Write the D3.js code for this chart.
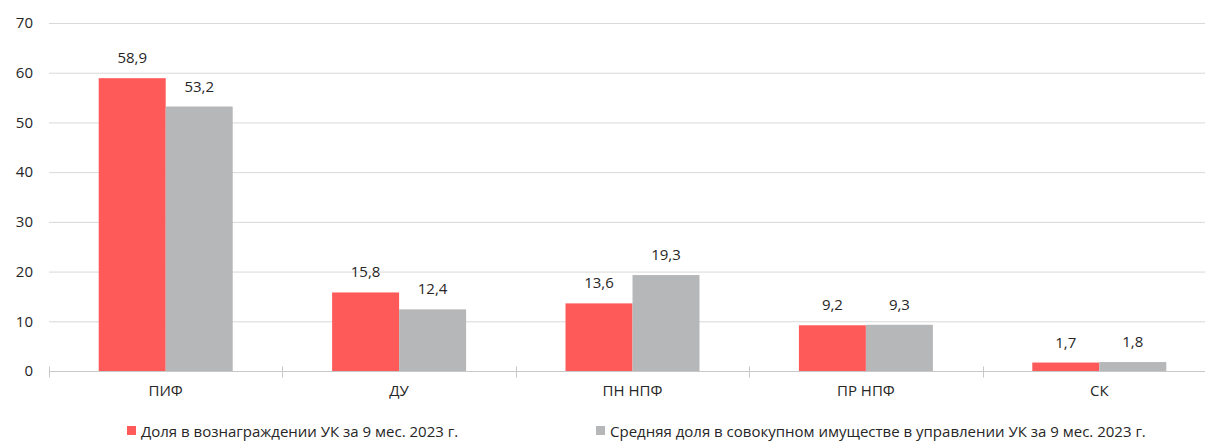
<!DOCTYPE html>
<html>
<head>
<meta charset="utf-8">
<script src="https://cdn.jsdelivr.net/npm/d3@7"></script>
<style>
  body { margin: 0; background: #fff; }
  svg text { font-family: "Open Sans", "Noto Sans", sans-serif; fill: #262626; }
</style>
</head>
<body>
<div id="chart"></div>
<script>
// data
var categories = ['ПИФ', 'ДУ', 'ПН НПФ', 'ПР НПФ', 'СК'];
var feeShare = [58.9, 15.8, 13.6, 9.2, 1.7];
var assetShare = [53.2, 12.4, 19.3, 9.3, 1.8];
var seriesNames = ['Доля в вознаграждении УК за 9 мес. 2023 г.',
    'Средняя доля в совокупном имуществе в управлении УК за 9 мес. 2023 г.'];
var seriesColors = ['#ff5a5a', '#b6b7b9'];
var yTicks = [0, 10, 20, 30, 40, 50, 60, 70];

var W = 1205, H = 442;

var svg = d3.select('#chart').append('svg')
    .attr('width', W)
    .attr('height', H);

var x = d3.scaleBand().domain(categories).range([49, 1216]);
var y = d3.scaleLinear().domain([0, 70]).range([371, 23]);

var fmt = function(v){ return d3.format('.1f')(v).replace('.', ','); };

// gridlines
svg.append('g').selectAll('line')
    .data(yTicks.slice(1)).enter().append('line')
    .attr('x1', 49).attr('x2', W)
    .attr('y1', function(d){ return y(d) + 0.5; })
    .attr('y2', function(d){ return y(d) + 0.5; })
    .attr('stroke', '#d9d9d9').attr('stroke-width', 1);

// y labels
svg.append('g').selectAll('text')
    .data(yTicks).enter().append('text')
    .attr('x', 33)
    .attr('y', function(d){ return y(d); })
    .attr('dy', '0.35em')
    .attr('text-anchor', 'end')
    .attr('font-size', 15)
    .text(function(d){ return d; });

// bars
var series = [feeShare, assetShare];
var barW = 67;
series.forEach(function(vals, si){
    var g = svg.append('g');
    g.selectAll('rect').data(vals).enter().append('rect')
        .attr('x', function(d, i){ return x(categories[i]) + x.bandwidth() / 2 - barW + si * barW; })
        .attr('y', function(d){ return y(d); })
        .attr('width', barW)
        .attr('height', function(d){ return y(0) - y(d); })
        .attr('fill', seriesColors[si]);
    g.selectAll('text').data(vals).enter().append('text')
        .attr('x', function(d, i){ return x(categories[i]) + x.bandwidth() / 2 - barW / 2 + si * barW; })
        .attr('y', function(d){ return y(d) - 15; })
        .attr('text-anchor', 'middle')
        .attr('font-size', 15)
        .text(fmt);
});

// x axis
var axis = svg.append('g').attr('transform', 'translate(0,' + (y(0) + 0.5) + ')');
axis.append('line').attr('x1', 49).attr('x2', W)
    .attr('stroke', '#c8c8c8');
axis.selectAll('.tick').data(categories).enter().append('line')
    .attr('x1', function(d){ return Math.round(x(d)) + 0.5; })
    .attr('x2', function(d){ return Math.round(x(d)) + 0.5; })
    .attr('y1', -5).attr('y2', 6)
    .attr('stroke', '#c8c8c8');
axis.selectAll('text').data(categories).enter().append('text')
    .attr('x', function(d){ return x(d) + x.bandwidth() / 2; })
    .attr('y', 24)
    .attr('text-anchor', 'middle')
    .attr('font-size', 15)
    .text(function(d){ return d; });

// legend
var legendX = [127, 596];
var legend = svg.append('g');
seriesNames.forEach(function(name, i){
    legend.append('rect')
        .attr('x', legendX[i]).attr('y', 426)
        .attr('width', 9).attr('height', 9)
        .attr('fill', seriesColors[i]);
    legend.append('text')
        .attr('x', legendX[i] + 14).attr('y', 437)
        .attr('font-size', 15)
        .text(name);
});
</script>
</body>
</html>
